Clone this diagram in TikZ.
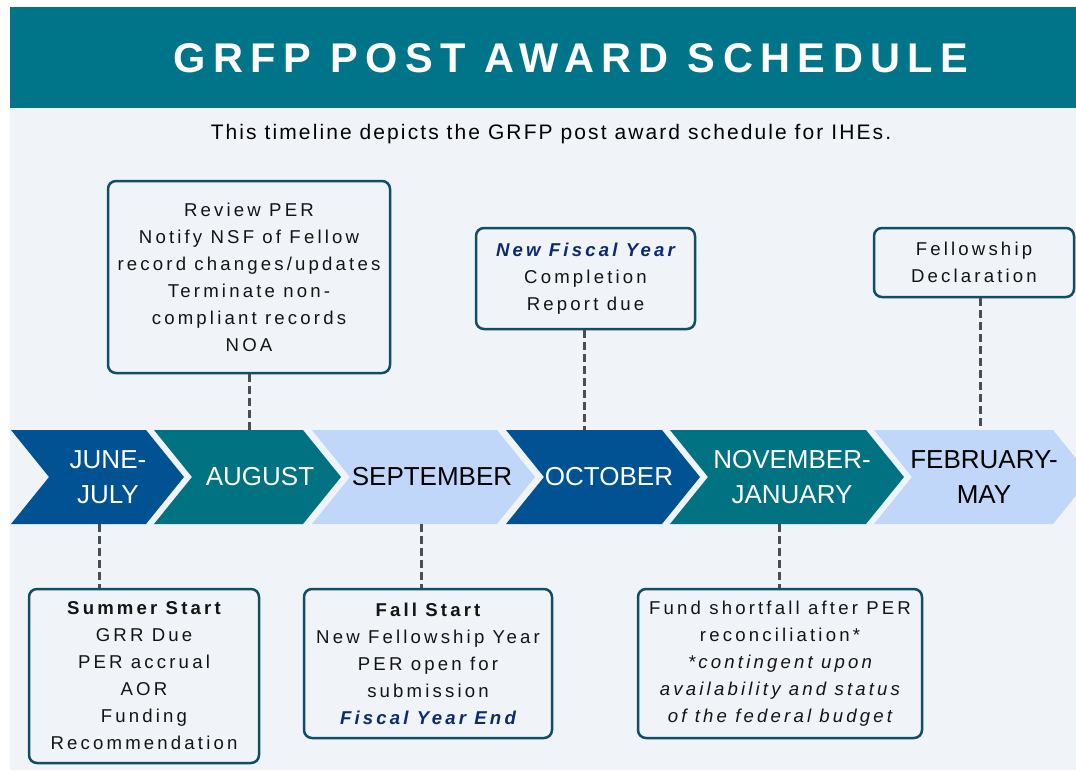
\documentclass[tikz,border=0pt]{standalone}
\usepackage{fontspec}
\setmainfont{Liberation Sans}
\newfontfamily\titlefont[LetterSpace=18]{Liberation Sans}
\newfontfamily\subfont[LetterSpace=10]{Liberation Sans}
\newfontfamily\boxfont[LetterSpace=17]{Liberation Sans}

\definecolor{header}{HTML}{00758A}
\definecolor{panel}{HTML}{F0F3F8}
\definecolor{darkblue}{HTML}{005293}
\definecolor{teal}{HTML}{007282}
\definecolor{lightblue}{HTML}{C1D7FA}
\definecolor{boxline}{HTML}{104E66}
\definecolor{boxtext}{HTML}{141414}
\definecolor{navy}{HTML}{0A2B6E}
\definecolor{dashgray}{HTML}{4D4D4D}

\tikzset{
  month/.style={minimum height=94pt, inner sep=0pt, align=center,
    font=\fontsize{26}{35}\selectfont},
  infobox/.style={draw=boxline, line width=2.5pt, rounded corners=8pt,
    fill=panel, align=center, inner sep=0pt, text=boxtext,
    font=\boxfont\fontsize{18.6}{27}\selectfont},
  link/.style={draw=dashgray, line width=3pt, dash pattern=on 8pt off 4pt},
}

\begin{document}
\begin{tikzpicture}[x=1pt, y=-1pt]
    \useasboundingbox (0,0) rectangle (1076,772);
    \fill[white] (0,0) rectangle (1076,772);
    %header
    \fill[header] (10,7) rectangle (1076,108);
    \fill[panel] (10,108) rectangle (1076,770);
    \node[text=white, font=\titlefont\bfseries\fontsize{41.5}{44}\selectfont]
         (title) at (571,58) {GRFP POST AWARD SCHEDULE};
    \node[font=\subfont\fontsize{21}{24}\selectfont]
         (subtitle) at (551,134) %
         {This timeline depicts the GRFP post award schedule for IHEs.};

    %timeline
    \fill[darkblue] (11,430) -- (146,430) -- (184,477) -- (146,524) -- (11,524) -- (49,477) -- cycle;
    \fill[teal] (154,430) -- (303,430) -- (341,477) -- (303,524) -- (154,524) -- (192,477) -- cycle;
    \fill[lightblue] (312,430) -- (497,430) -- (535,477) -- (497,524) -- (312,524) -- (350,477) -- cycle;
    \fill[darkblue] (506,430) -- (662,430) -- (700,477) -- (662,524) -- (506,524) -- (544,477) -- cycle;
    \fill[teal] (670,430) -- (866,430) -- (904,477) -- (866,524) -- (670,524) -- (708,477) -- cycle;
    \fill[lightblue] (874,430) -- (1053,430) -- (1091,477) -- (1053,524) -- (874,524) -- (912,477) -- cycle;

    \node[month, text=white] (jun) at (108,477) {JUNE-\\JULY};
    \node[month, text=white] (aug) at (260,477) {AUGUST};
    \node[month, text=black] (sep) at (432,477) {SEPTEMBER};
    \node[month, text=white] (oct) at (609,477) {OCTOBER};
    \node[month, text=white] (nov) at (792,477) {NOVEMBER-\\JANUARY};
    \node[month, text=black] (feb) at (984,477) {FEBRUARY-\\MAY};

    %boxes above
    \node[infobox, minimum width=282pt, minimum height=192pt]
         (augbox) at (249,277) %
         {Review PER\\Notify NSF of Fellow\\record changes/updates\\Terminate non-\\compliant records\\NOA};
    \node[infobox, minimum width=219pt, minimum height=101pt]
         (octbox) at (585.5,278.5) %
         {{\color{navy}\bfseries\itshape New Fiscal Year}\\Completion\\Report due};
    \node[infobox, minimum width=200pt, minimum height=69pt]
         (febbox) at (974,262.5) %
         {Fellowship\\Declaration};

    %boxes below
    \node[infobox, minimum width=230pt, minimum height=174pt]
         (junbox) at (144,676) %
         {\bfseries Summer Start\\GRR Due\\PER accrual\\AOR\\Funding\\Recommendation};
    \node[infobox, minimum width=248pt, minimum height=149pt]
         (sepbox) at (428,663.5) %
         {\bfseries Fall Start\\New Fellowship Year\\PER open for\\submission\\{\color{navy}\bfseries\itshape Fiscal Year End}};
    \node[infobox, minimum width=284pt, minimum height=149pt]
         (novbox) at (780,663.5) %
         {Fund shortfall after PER\\reconciliation*\\{\itshape *contingent upon}\\{\itshape availability and status}\\{\itshape of the federal budget}};

    %dashed links
    \coordinate (augdash) at (249,0);
    \coordinate (octdash) at (584,0);
    \coordinate (febdash) at (980,0);
    \coordinate (jundash) at (99,0);
    \coordinate (sepdash) at (421,0);
    \coordinate (novdash) at (779,0);
    \draw[link] (augbox.south -| augdash) -- (aug.north -| augdash);
    \draw[link] (octbox.south -| octdash) -- (oct.north -| octdash);
    \draw[link] (febbox.south -| febdash) -- (feb.north -| febdash);
    \draw[link] (jun.south -| jundash) -- (junbox.north -| jundash);
    \draw[link] (sep.south -| sepdash) -- (sepbox.north -| sepdash);
    \draw[link] (nov.south -| novdash) -- (novbox.north -| novdash);
\end{tikzpicture}
\end{document}
